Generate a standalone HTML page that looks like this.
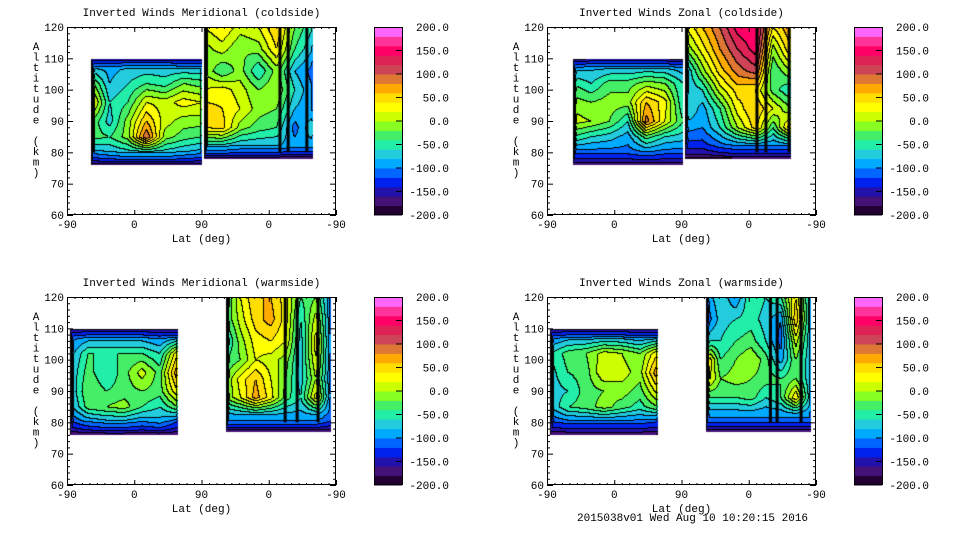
<!DOCTYPE html>
<html><head><meta charset="utf-8"><style>
body{margin:0;background:#fff;width:960px;height:540px;overflow:hidden;position:relative;font-family:"Liberation Mono",monospace;font-size:11px;color:#000}
.abs{position:absolute;white-space:nowrap}
canvas{position:absolute}
</style></head><body>
<div id="root"></div>
<script>
// ---- data ----
const palette=['#220033','#441177','#2211aa','#0022ee','#0066ff','#00aaff','#22ccdd','#22eeaa','#44ee66','#88ff22','#ccff00','#ffff00','#ffdd00','#ffaa00','#dd7733','#cc4455','#dd2255','#ff0066','#ff3399','#ff66ff'];
const cbLabels=['200.0','150.0','100.0','50.0','0.0','-50.0','-100.0','-150.0','-200.0'];
const yTicks=[60,70,80,90,100,110,120];
const xTickLabels=['-90','0','90','0','-90'];
const altA=[108,102,96,90,85,80];
const altB=[120,113,106,100,94,88,82];
const tlA=[[-90,-90,-80,-80,-80,-90,-90],[-10,-80,-60,-40,-50,-20,-30],[40,-60,-40,20,10,30,20],[-20,-70,-10,60,10,-10,-10],[-30,-40,-10,100,-10,-30,-40],[-90,-80,-70,-70,-70,-80,-90]];
const tlB=[[20,40,10,20,60,-20,-60],[-10,10,-20,-10,40,-40,-80],[0,-40,-10,-60,-10,-80,-110],[20,30,10,-20,0,-60,-100],[50,40,20,-10,-20,-80,-100],[40,50,-10,-30,-40,-110,-60],[-70,-70,-80,-80,-80,-90,-90]];
const trA=[[-100,-90,-90,-90,-90,-90,-100],[-40,-60,-30,-30,-10,-20,-60],[-10,-20,-10,-10,60,30,-60],[10,0,-20,-60,90,20,-40],[-40,-60,-70,-90,-30,-60,-70],[-110,-110,-110,-110,-100,-110,-110]];
const trB=[[20,60,100,150,160,40,80],[-20,30,80,120,150,-10,60],[-90,-10,50,90,110,-40,0],[-80,-60,10,50,40,-30,-60],[-50,-90,-40,30,60,20,-20],[-90,-100,-60,0,50,-40,60],[-130,-130,-110,-100,-100,-100,-100]];
const blA=[[-110,-100,-100,-100,-100,-110,-110],[-90,-40,-40,-40,-40,-60,40],[-80,-30,-60,-30,10,-30,80],[-80,-20,-40,-30,-20,-30,40],[-90,-30,-20,-10,-40,-60,-20],[-120,-100,-90,-90,-100,-90,-120]];
const blB=[[-50,20,60,60,30,-40,-20,-100],[-40,10,50,70,30,-60,10,-100],[-70,-10,30,40,20,-70,30,-100],[-40,-20,20,10,-10,-70,20,-100],[-20,30,60,20,-20,-70,0,-100],[-20,20,70,30,-30,-60,30,-100],[-90,-90,-90,-90,-90,-90,-90,-110]];
const brA=[[-110,-100,-100,-100,-100,-110,-110],[-60,-30,-20,10,0,-20,40],[-70,-40,-30,20,10,-10,80],[-70,-60,-30,-20,-10,-30,30],[-80,-40,-30,-10,-30,-50,-20],[-120,-110,-110,-110,-110,-110,-120]];
const brB=[[-100,-60,-100,-40,-60,-40,40,-80],[-120,-70,-60,-50,-70,-100,60,-80],[-60,-60,-40,-30,-60,-110,10,-80],[60,-40,-20,0,-30,-90,-20,-80],[40,-20,-10,-20,-30,-40,-20,-80],[-40,-40,-40,-30,-60,-40,40,-80],[-100,-100,-100,-100,-100,-100,-100,-100]];
const tlStripes=[285,296,321];
const trStripes=[281,293,324];
const blStripes=[292,308,336];
const brStripes=[299,308,340];

const panels=[
 {name:'meridional-coldside',title:'Inverted Winds Meridional (coldside)',fx:67,fy:27,
  blocks:[{u0:32,u1:180,top:110,bot:76,alts:altA,vals:tlA},{u0:183,u1:329,top:120,bot:78,alts:altB,vals:tlB}],stripes:tlStripes},
 {name:'zonal-coldside',title:'Inverted Winds Zonal (coldside)',fx:547,fy:27,
  blocks:[{u0:34,u1:182,top:110,bot:76,alts:altA,vals:trA},{u0:184,u1:326,top:120,bot:78,alts:altB,vals:trB}],stripes:trStripes},
 {name:'meridional-warmside',title:'Inverted Winds Meridional (warmside)',fx:67,fy:297,
  blocks:[{u0:4,u1:148,top:110,bot:76,alts:altA,vals:blA},{u0:212,u1:353,top:120,bot:77,alts:altB,vals:blB}],stripes:blStripes},
 {name:'zonal-warmside',title:'Inverted Winds Zonal (warmside)',fx:547,fy:297,
  blocks:[{u0:4,u1:148,top:110,bot:76,alts:altA,vals:brA},{u0:212,u1:353,top:120,bot:77,alts:altB,vals:brB}],stripes:brStripes}
];
const W=269,H=188;
const xs=u=>u*W/360;
const ys=a=>(120-a)*H/60;
const root=document.getElementById('root');

function lerp(a,b,t){return a+(b-a)*t}
function sample(b,u,alt){
  const nc=b.vals[0].length;
  let cf=(u-b.u0)/(b.u1-b.u0)*(nc-1);cf=Math.max(0,Math.min(nc-1,cf));
  const c0=Math.min(nc-2,Math.floor(cf)),ct=cf-c0;
  const al=b.alts;let r0=0,rt=0;
  if(alt>=al[0]){r0=0;rt=0;}
  else if(alt<=al[al.length-1]){r0=al.length-2;rt=1;}
  else{for(let i=0;i<al.length-1;i++){if(alt<=al[i]&&alt>=al[i+1]){r0=i;rt=(al[i]-alt)/(al[i]-al[i+1]);break;}}}
  const v=b.vals;
  const a=lerp(v[r0][c0],v[r0][c0+1],ct),c=lerp(v[r0+1][c0],v[r0+1][c0+1],ct);
  return lerp(a,c,rt);
}
function hexRGB(h){return [parseInt(h.substr(1,2),16),parseInt(h.substr(3,2),16),parseInt(h.substr(5,2),16)]}
const pal=palette.map(hexRGB);

function mk(tag,name,inter,parent){const e=document.createElement(tag);


(parent||root).appendChild(e);return e;}

panels.forEach(p=>{
  const lv=new Int16Array(W*H).fill(-1);
  for(let py=0;py<H;py++){const alt=120-py*60/H;
    for(let px=0;px<W;px++){const u=px*360/W;
      for(const b of p.blocks){
        const x0=xs(b.u0),x1=xs(b.u1),y0=ys(b.top),y1=ys(b.bot);
        if(px>=x0&&px<=x1&&py>=y0&&py<=y1){
          let v=sample(b,u,alt);
          let f=Math.min(1,(y1-py)/14,(px-x0)/4,(x1-px+1)/2);
          if(b.top<120)f=Math.min(f,(py-y0+1)/12);
          f=Math.max(0,f);
          v=-200+(v+200)*Math.sqrt(f);
          lv[py*W+px]=Math.max(0,Math.min(19,Math.floor((v+200)/20)));
        }
      }
    }}
  const cv=mk('canvas','contour-plot-'+p.name,'false');
  cv.width=W;cv.height=H;cv.style.left=p.fx+'px';cv.style.top=p.fy+'px';
  const ctx=cv.getContext('2d');const im=ctx.createImageData(W,H);
  for(let i=0;i<W*H;i++){const l=lv[i];let c=[255,255,255];
    if(l>=0){c=pal[l];const x=i%W,y=(i/W)|0;
      if((x<W-1&&lv[i+1]>=0&&lv[i+1]!==l)||(y<H-1&&lv[i+W]>=0&&lv[i+W]!==l))c=[0,0,0];}
    im.data[i*4]=c[0];im.data[i*4+1]=c[1];im.data[i*4+2]=c[2];im.data[i*4+3]=255;}
  ctx.putImageData(im,0,0);
  ctx.fillStyle='#000';
  p.stripes.forEach(s=>{ctx.fillRect(xs(s)-1.5,0,3,ys(80));});
  const ns='http://www.w3.org/2000/svg';
  const svg=document.createElementNS(ns,'svg');
  
  
  svg.setAttribute('width',480);svg.setAttribute('height',270);
  svg.style.position='absolute';svg.style.left=(p.fx-67)+'px';svg.style.top=(p.fy-27)+'px';
  root.appendChild(svg);
  const ox=67,oy=27;
  function line(x1,y1,x2,y2){const l=document.createElementNS(ns,'line');
    l.setAttribute('x1',x1);l.setAttribute('y1',y1);l.setAttribute('x2',x2);l.setAttribute('y2',y2);
    l.setAttribute('stroke','#000');l.setAttribute('stroke-width',1);svg.appendChild(l);}
  const r=document.createElementNS(ns,'rect');
  r.setAttribute('x',ox+0.5);r.setAttribute('y',oy+0.5);r.setAttribute('width',W-1);r.setAttribute('height',H-1);
  r.setAttribute('fill','none');r.setAttribute('stroke','#000');
  
  
  svg.appendChild(r);
  for(let a=60;a<=120;a+=2){const y=oy+ys(a)+0.5;const len=(a%10===0)?6:3;
    line(ox,y,ox+len,y);line(ox+W,y,ox+W-len,y);}
  xTickLabels.forEach((t,i)=>{const x=ox+xs(i*90)+0.5;line(x,oy,x,oy+5);line(x,oy+H,x,oy+H-5);});
  for(let u=10;u<360;u+=10){const x=ox+xs(u)+0.5;line(x,oy+H,x,oy+H-2);line(x,oy,x,oy+2);}
  function txt(s,x,y,anchor,name){const t=document.createElementNS(ns,'text');
    t.setAttribute('x',x);t.setAttribute('y',y);t.setAttribute('text-anchor',anchor);
    t.setAttribute('font-family','Liberation Mono, monospace');t.setAttribute('font-size','11');
    
    
    t.textContent=s;svg.appendChild(t);}
  txt(p.title,ox+W/2,oy-11,'middle','chart-title');
  yTicks.forEach(a=>txt(String(a),ox-3,oy+ys(a)+4,'end','y-tick-label'));
  xTickLabels.forEach((t,i)=>txt(t,ox+xs(i*90),oy+H+13,'middle','x-tick-label'));
  txt('Lat (deg)',ox+W/2,oy+H+27,'middle','x-axis-title');
  'Altitude (km)'.split('').forEach((ch,i)=>txt(ch,36,oy+23+i*10.5,'middle','y-axis-title-char'));
  const cbx=374,cbw=28;
  palette.forEach((c,i)=>{const rr=document.createElementNS(ns,'rect');
    rr.setAttribute('x',cbx);rr.setAttribute('y',oy+H-(i+1)*H/20);rr.setAttribute('width',cbw);rr.setAttribute('height',H/20+0.5);
    rr.setAttribute('fill',c);
    
    
    svg.appendChild(rr);});
  const cr=document.createElementNS(ns,'rect');
  cr.setAttribute('x',cbx+0.5);cr.setAttribute('y',oy+0.5);cr.setAttribute('width',cbw);cr.setAttribute('height',H-1);
  cr.setAttribute('fill','none');cr.setAttribute('stroke','#000');svg.appendChild(cr);
  cbLabels.forEach((s,i)=>{const y=oy+i*H/8;
    if(i>0&&i<8)line(cbx+cbw-6,y,cbx+cbw,y);
    txt(s,449,y+4,'end','colorbar-label');});
});
const ts=mk('div','timestamp','false');
ts.className='abs';ts.style.left='577px';ts.style.top='513px';
ts.textContent='2015038v01 Wed Aug 10 10:20:15 2016';
</script>
</body></html>
